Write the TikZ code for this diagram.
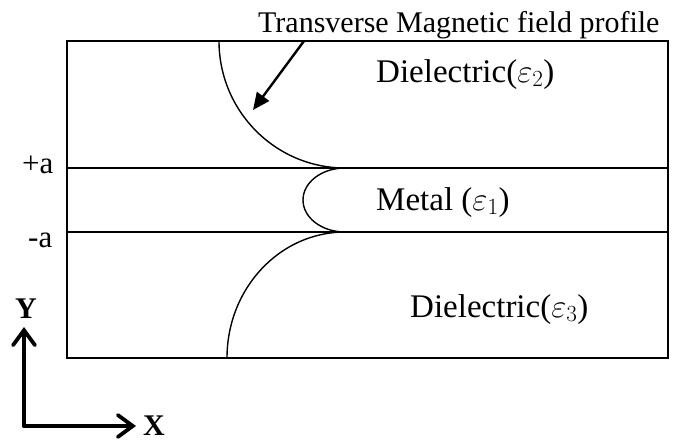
\RequirePackage{fix-cm}
\documentclass[tikz,border=0pt]{standalone}
\usepackage{fontspec}
\setmainfont{Liberation Serif}
\usetikzlibrary{arrows.meta}
\begin{document}
\begin{tikzpicture}[x=1pt,y=-1pt,
  lbl/.style={inner sep=0pt,anchor=base west,font=\fontsize{33}{38}\selectfont},
  ttl/.style={inner sep=0pt,anchor=base west,font=\fontsize{30}{36}\selectfont},
  side/.style={inner sep=0pt,anchor=base west,font=\fontsize{31}{36}\selectfont},
  axlbl/.style={inner sep=0pt,anchor=base west,font=\fontsize{30}{36}\selectfont\bfseries},
  frame/.style={line width=2pt},
  profile/.style={line width=1.4pt},
  pointer/.style={line width=2.4pt,-{Triangle[length=17pt,width=15pt]}},
  axis/.style={line width=3.8pt,line cap=round,-{Straight Barb[length=15pt,width=22pt,line cap=round]}}]
\useasboundingbox (0,0) rectangle (688,440);

% layered structure
\draw[frame] (67,41) rectangle (668,358);
\draw[frame] (67,168) -- (668,168);
\draw[frame] (67,232) -- (668,232);

% field profile: decay in both dielectrics, cosh-like inside the metal
\coordinate (pt) at (345,168);
\coordinate (pb) at (345,232);
\coordinate (ptop) at (219,41);
\coordinate (pbot) at (227,358);
\coordinate (pmid) at (303,200);
\draw[profile] (ptop) .. controls (219,111.1) and (275.4,168) .. (pt);
\draw[profile] (pt) .. controls (321.8,168) and (303,182.3) .. (pmid)
               .. controls (303,217.7) and (321.8,232) .. (pb);
\draw[profile] (pb) .. controls (279.8,232) and (227,288.4) .. (pbot);

% labels
\node[ttl] (title) at (258,32) {Transverse Magnetic field profile};
\node[lbl] (d2) at (376,82) {Dielectric($\varepsilon_2$)};
\node[lbl] (metal) at (376,210) {Metal ($\varepsilon_1$)};
\node[lbl] (d3) at (410,317) {Dielectric($\varepsilon_3$)};
\node[side] (plusa) at (22,173) {+a};
\node[side] (minusa) at (28,247) {-a};

% pointer from the title to the profile
\coordinate (ptrstart) at (304,41);
\coordinate (ptrtip) at (253,110);
\draw[pointer] (ptrstart) -- (ptrtip);

% coordinate axes
\coordinate (origin) at (24,426);
\coordinate (yend) at (24,327);
\coordinate (xend) at (136,426);
\draw[axis] (origin) -- (yend);
\draw[axis] (origin) -- (xend);
\node[axlbl] (ylab) at (15,318) {Y};
\node[axlbl] (xlab) at (143,435) {X};
\end{tikzpicture}
\end{document}
